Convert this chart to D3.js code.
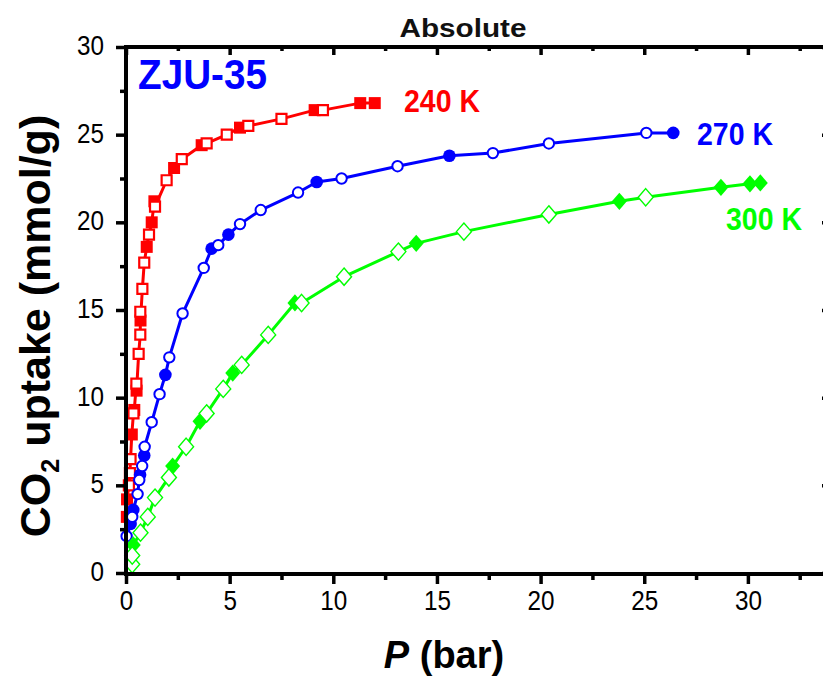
<!DOCTYPE html>
<html>
<head>
<meta charset="utf-8">
<script src="https://cdn.jsdelivr.net/npm/d3@7"></script>
<style>
  html, body { margin: 0; padding: 0; background: #fff; }
  svg { display: block; }
</style>
</head>
<body>
<svg id="chart" width="823" height="676"></svg>
<script>
// CO2 absolute uptake isotherms of ZJU-35 at three temperatures.
// Points are [pressure in bar, uptake in mmol/g]; filled and open symbols are separate runs.
const iso240Filled = [[0.04, 3.2], [0.05, 4.2], [0.28, 7.9], [0.40, 9.3], [0.51, 10.4], [0.70, 14.4],
  [1.00, 18.6], [1.24, 20.0], [1.37, 21.2], [2.32, 23.1], [3.65, 24.4], [5.5, 25.4], [9.1, 26.4],
  [11.3, 26.8], [12.0, 26.8]];
const iso240Open = [[0.14, 5.0], [0.19, 5.7], [0.22, 6.5], [0.36, 9.1], [0.50, 10.8], [0.61, 12.5],
  [0.69, 13.6], [0.69, 14.9], [0.79, 16.2], [0.88, 17.7], [1.11, 19.3], [1.40, 20.9], [1.96, 22.4],
  [2.69, 23.6], [3.89, 24.5], [4.86, 25.0], [5.9, 25.5], [7.5, 25.9], [9.5, 26.4]];

const iso270Filled = [[0.22, 2.8], [0.35, 3.6], [0.68, 5.6], [0.88, 6.7], [1.90, 11.3], [4.13, 18.5],
  [4.94, 19.3], [9.2, 22.3], [15.6, 23.8], [26.4, 25.1]];
const iso270Open = [[0.03, 2.1], [0.30, 3.2], [0.56, 4.5], [0.64, 5.3], [0.78, 6.1], [0.90, 7.2],
  [1.24, 8.6], [1.62, 10.2], [2.09, 12.3], [2.73, 14.8], [3.75, 17.4], [4.45, 18.7], [5.5, 19.9],
  [6.5, 20.7], [8.3, 21.7], [10.4, 22.5], [13.1, 23.2], [17.7, 23.95], [20.4, 24.5], [25.1, 25.1]];

const iso300Filled = [[0.35, 1.6], [2.25, 6.1], [3.57, 8.65], [5.15, 11.4], [8.15, 15.4], [14.0, 18.8],
  [23.8, 21.2], [28.7, 22.0], [30.1, 22.2], [30.6, 22.25]];
const iso300Open = [[0.30, 0.5], [0.30, 1.0], [0.70, 2.3], [1.05, 3.2], [1.40, 4.3], [2.07, 5.45],
  [2.9, 7.2], [3.89, 9.1], [4.69, 10.5], [5.58, 11.87], [6.86, 13.58], [8.47, 15.4], [10.52, 16.9],
  [13.14, 18.33], [16.3, 19.47], [20.4, 20.45], [25.07, 21.43]];

const seriesNames = ["240 K", "270 K", "300 K"];
const seriesColors = ["#ff0000", "#0000ff", "#00ff00"];

const xMajor = [0, 5, 10, 15, 20, 25, 30];
const xMinor = [2.5, 7.5, 12.5, 17.5, 22.5, 27.5, 32.5];
const yMajor = [0, 5, 10, 15, 20, 25, 30];
const yMinor = [2.5, 7.5, 12.5, 17.5, 22.5, 27.5];

const svg = d3.select("#chart");
const sans = "'Liberation Sans', Arial, Helvetica, sans-serif";

const x = d3.scaleLinear().domain([0, 34]).range([126, 830.8]);
const y = d3.scaleLinear().domain([0, 30]).range([573, 47]);

// diamond symbol, slightly taller than wide
const diamond = {
  draw(ctx, size) {
    const w = Math.sqrt(size) / 2, h = w * 1.15;
    ctx.moveTo(0, -h); ctx.lineTo(w, 0); ctx.lineTo(0, h); ctx.lineTo(-w, 0); ctx.closePath();
  }
};

const series = [
  { filled: iso240Filled, open: iso240Open, color: seriesColors[0],
    fillSym: d3.symbol(d3.symbolSquare, 12 * 12), openSym: d3.symbol(d3.symbolSquare, 10 * 10), openWidth: 2.2 },
  { filled: iso270Filled, open: iso270Open, color: seriesColors[1],
    fillSym: d3.symbol(d3.symbolCircle, Math.PI * 6.3 * 6.3), openSym: d3.symbol(d3.symbolCircle, Math.PI * 5.2 * 5.2), openWidth: 2 },
  { filled: iso300Filled, open: iso300Open, color: seriesColors[2],
    fillSym: d3.symbol(diamond, 15 * 15), openSym: d3.symbol(diamond, 15 * 15), openWidth: 1.4 }
];

const line = d3.line().x(d => x(d[0])).y(d => y(d[1]));
const plot = svg.append("g");

series.forEach(s => {
  const all = s.filled.concat(s.open).slice().sort((a, b) => a[0] - b[0] || a[1] - b[1]);
  plot.append("path").datum(all).attr("d", line)
    .attr("fill", "none").attr("stroke", s.color).attr("stroke-width", 3).attr("stroke-linejoin", "round");
  plot.selectAll(null).data(s.filled).join("path")
    .attr("transform", d => `translate(${x(d[0])},${y(d[1])})`)
    .attr("d", s.fillSym).attr("fill", s.color);
  plot.selectAll(null).data(s.open).join("path")
    .attr("transform", d => `translate(${x(d[0])},${y(d[1])})`)
    .attr("d", s.openSym).attr("fill", "#fff").attr("stroke", s.color).attr("stroke-width", s.openWidth);
});

// axes: ticks out on bottom/left, in on top/right
function styleAxis(g) {
  g.select(".domain").remove();
  g.selectAll("line").attr("stroke", "#000").attr("stroke-width", 3.5);
}
// tall, condensed tick numbers
function styleLabels(sel) {
  sel.attr("font-family", sans).attr("font-size", 28).attr("fill", "#000")
    .attr("textLength", function () { return 13.5 * this.textContent.length; })
    .attr("lengthAdjust", "spacingAndGlyphs");
}
const noLabel = () => "";

svg.append("g").attr("transform", "translate(0,574)")
  .call(d3.axisBottom(x).tickValues(xMinor).tickSize(6).tickFormat(noLabel)).call(styleAxis);
svg.append("g").attr("transform", "translate(0,574)")
  .call(d3.axisBottom(x).tickValues(xMajor).tickSize(10).tickPadding(6).tickFormat(d3.format("d"))).call(styleAxis)
  .selectAll("text").call(styleLabels).attr("dy", "0.71em");

svg.append("g").attr("transform", "translate(126,0)")
  .call(d3.axisLeft(y).tickValues(yMinor).tickSize(6).tickFormat(noLabel)).call(styleAxis);
svg.append("g").attr("transform", "translate(126,0)")
  .call(d3.axisLeft(y).tickValues(yMajor).tickSize(10).tickPadding(12).tickFormat(d3.format("d"))).call(styleAxis)
  .selectAll("text").call(styleLabels).attr("dy", "0.27em");

svg.append("g").attr("transform", "translate(0,47)")
  .call(d3.axisTop(x).tickValues(xMinor).tickSize(-4).tickFormat(noLabel)).call(styleAxis);
svg.append("g").attr("transform", "translate(0,47)")
  .call(d3.axisTop(x).tickValues(xMajor).tickSize(-8).tickFormat(noLabel)).call(styleAxis);

svg.append("g").attr("transform", "translate(831,0)")
  .call(d3.axisRight(y).tickValues(yMinor).tickSize(-5).tickFormat(noLabel)).call(styleAxis);
svg.append("g").attr("transform", "translate(831,0)")
  .call(d3.axisRight(y).tickValues(yMajor).tickSize(-9).tickFormat(noLabel)).call(styleAxis);

// frame
const frame = svg.append("g").attr("stroke", "#000").attr("stroke-width", 4).attr("stroke-linecap", "square");
frame.append("line").attr("x1", 126).attr("x2", 126).attr("y1", 47).attr("y2", 574);
frame.append("line").attr("x1", 126).attr("x2", 831).attr("y1", 574).attr("y2", 574);
frame.append("line").attr("x1", 126).attr("x2", 831).attr("y1", 47).attr("y2", 47);
frame.append("line").attr("x1", 831).attr("x2", 831).attr("y1", 47).attr("y2", 574);

// titles
svg.append("text").attr("x", 463).attr("y", 37).attr("text-anchor", "middle")
  .attr("font-family", sans).attr("font-weight", "bold").attr("font-size", 25).attr("fill", "#111")
  .attr("textLength", 127).attr("lengthAdjust", "spacingAndGlyphs").text("Absolute");

svg.append("text").attr("x", 138).attr("y", 89)
  .attr("font-family", sans).attr("font-weight", "bold").attr("font-size", 42).attr("fill", "#0000ff")
  .attr("textLength", 129).attr("lengthAdjust", "spacingAndGlyphs").text("ZJU-35");

const labelPos = [[404, 112], [697, 145], [726, 230]];
seriesNames.forEach((name, i) => {
  svg.append("text").attr("x", labelPos[i][0]).attr("y", labelPos[i][1])
    .attr("font-family", sans).attr("font-weight", "bold").attr("font-size", 32)
    .attr("fill", seriesColors[i]).attr("textLength", 76).attr("lengthAdjust", "spacingAndGlyphs").text(name);
});

const xt = svg.append("text").attr("x", 444).attr("y", 668).attr("text-anchor", "middle")
  .attr("font-family", sans).attr("font-weight", "bold").attr("font-size", 38);
xt.append("tspan").attr("font-style", "italic").text("P");
xt.append("tspan").text(" (bar)");

const yt = svg.append("text").attr("transform", "translate(50,326) rotate(-90)").attr("text-anchor", "middle")
  .attr("font-family", sans).attr("font-weight", "bold").attr("font-size", 43);
yt.append("tspan").text("CO");
yt.append("tspan").attr("font-size", 25).attr("dy", 9).text("2");
yt.append("tspan").attr("dy", -9).text(" uptake (mmol/g)");
</script>
</body>
</html>
